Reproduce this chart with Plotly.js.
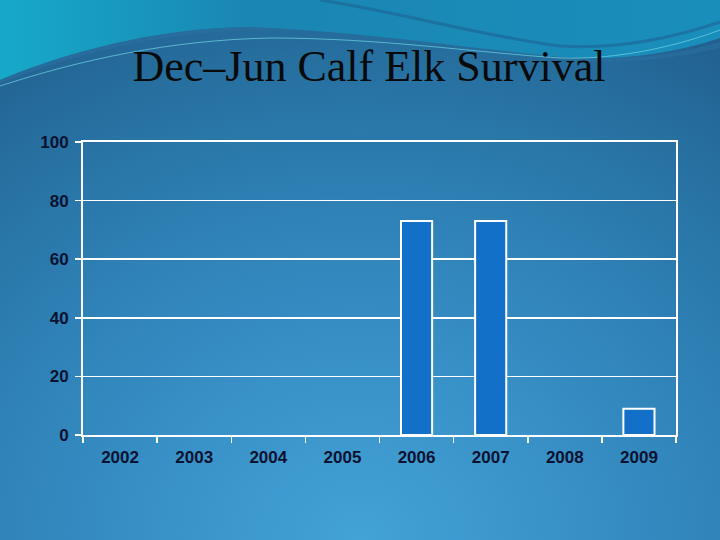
<!DOCTYPE html>
<html>
<head>
<meta charset="utf-8">
<script src="https://cdn.plot.ly/plotly-3.0.1.min.js"></script>
<style>
  html, body { margin: 0; padding: 0; }
  #slide {
    position: relative;
    width: 720px;
    height: 540px;
    overflow: hidden;
    background: radial-gradient(ellipse 95% 110% at 50% 100%, #43a2d6 0%, #3a94ca 25%, #2f82b7 55%, #266f9f 82%, #215f8f 100%);
  }
  #wave { position: absolute; left: 0; top: 0; }
  #calf-plot { position: absolute; left: 0; top: 0; }
</style>
</head>
<body>
<div id="slide">
  <!-- decorative header swoosh of the slide -->
  <svg id="wave" width="720" height="140" viewBox="0 0 720 140">
    <defs>
      <linearGradient id="teal" x1="0" y1="0" x2="1" y2="0">
        <stop offset="0" stop-color="#17a9c9"/>
        <stop offset="0.35" stop-color="#1a86b2"/>
        <stop offset="1" stop-color="#1a8ebb"/>
      </linearGradient>
    </defs>
    <path d="M0,0 H720 V38 C660,58 600,62 540,55 C440,44 340,30 250,27 C150,28 60,55 0,80 Z" fill="url(#teal)"/>
    <path d="M0,84 C70,55 160,32 260,30 C360,30 450,45 560,60 C620,66 680,58 720,48 L720,42 C660,60 600,62 540,55 C440,44 340,30 250,27 C150,28 60,55 0,80 Z" fill="#2a70a0" opacity="0.6"/>
    <path d="M0,86 C80,60 170,40 270,38 C380,38 470,52 560,58 C620,60 680,45 720,30" fill="none" stroke="#6fd6e6" stroke-width="1" opacity="0.7"/>
    <path d="M320,0 C400,12 480,36 560,46 C620,50 680,36 720,22" fill="none" stroke="#1d5f90" stroke-width="3" opacity="0.55"/>
  </svg>
  <div id="calf-plot"></div>
</div>
<script>
// ------------------------------------------------------------------------------
// DATA

const years    = ['2002', '2003', '2004', '2005', '2006', '2007', '2008', '2009'];
const survival = [null, null, null, null, 73, 73, null, 9];

const y_ticks  = [0, 20, 40, 60, 80, 100];

const label_font = {
    family: 'Liberation Sans, Arial, sans-serif',
    size: 17,
    weight: 'bold',
    color: '#0b1230'
};


// ------------------------------------------------------------------------------
// PLOT

const bar_trace = {
    type: 'bar',
    x: years,
    y: survival,
    marker: {
        color: '#1270c8',
        line: {
            color: '#ffffff',
            width: 2
        }
    },
    hoverinfo: 'none',
    showlegend: false
};

const calf_layout = {
    width: 720,
    height: 540,
    paper_bgcolor: 'rgba(0,0,0,0)',
    plot_bgcolor: 'rgba(0,0,0,0)',
    margin: {
        l: 83,
        r: 44,
        t: 142,
        b: 105,
        pad: 0
    },
    title: {
        text: 'Dec\u2013Jun Calf Elk Survival',
        x: 0.5125,
        xref: 'container',
        xanchor: 'center',
        y: 0.879,
        yref: 'container',
        yanchor: 'middle',
        font: {
            family: 'Liberation Serif, Times New Roman, serif',
            size: 44,
            color: '#0a0a0a'
        }
    },
    bargap: 0.58,
    xaxis: {
        type: 'category',
        tickson: 'boundaries',
        ticks: 'outside',
        ticklen: 6,
        tickwidth: 1.5,
        tickcolor: '#ffffff',
        ticklabelstandoff: 6,
        showline: true,
        mirror: true,
        linecolor: '#ffffff',
        linewidth: 2,
        showgrid: false,
        zeroline: false,
        tickfont: label_font,
        fixedrange: true
    },
    yaxis: {
        range: [0, 100],
        tickvals: y_ticks,
        ticks: 'outside',
        ticklen: 6,
        tickwidth: 1.5,
        tickcolor: '#ffffff',
        ticklabelstandoff: 3,
        showline: true,
        mirror: true,
        linecolor: '#ffffff',
        linewidth: 2,
        showgrid: true,
        gridcolor: '#ffffff',
        gridwidth: 1.5,
        zeroline: false,
        tickfont: label_font,
        fixedrange: true
    }
};

Plotly.newPlot('calf-plot', [bar_trace], calf_layout, {displayModeBar: false, staticPlot: true});
</script>
</body>
</html>
